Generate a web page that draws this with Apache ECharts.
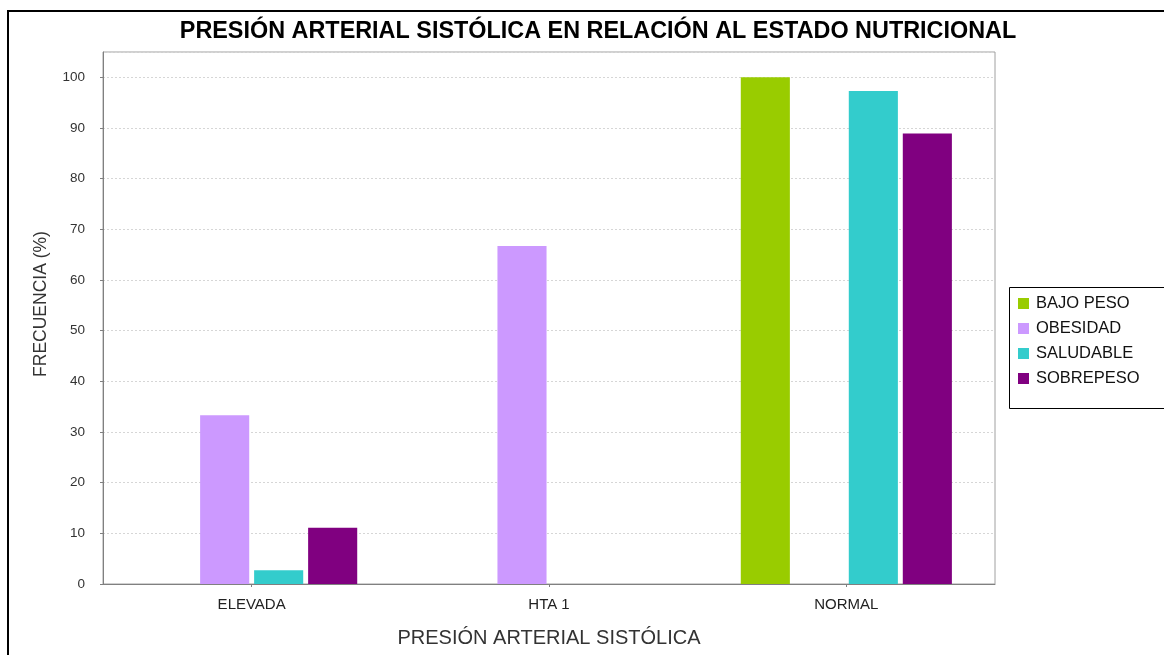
<!DOCTYPE html>
<html>
<head>
<meta charset="utf-8">
<script src="https://cdn.jsdelivr.net/npm/echarts@6/dist/echarts.min.js"></script>
<style>
  html, body { margin: 0; padding: 0; background: #ffffff; }
  #chart { width: 1164px; height: 655px; }
</style>
</head>
<body>
<div id="chart"></div>
<script>
// Systolic blood pressure categories and frequency (%) per nutritional status
const categories = ['ELEVADA', 'HTA 1', 'NORMAL'];
const seriesNames = ['BAJO PESO', 'OBESIDAD', 'SALUDABLE', 'SOBREPESO'];
const bajoPeso = [0, 0, 100];
const obesidad = [33.3, 66.7, 0];
const saludable = [2.7, 0, 97.3];
const sobrepeso = [11.1, 0, 88.9];
const seriesColors = ['#99cc00', '#cc99ff', '#33cccc', '#800080'];

const seriesData = [bajoPeso, obesidad, saludable, sobrepeso];
const font = 'Liberation Sans, Arial, sans-serif';

const chart = echarts.init(document.getElementById('chart'), null, { renderer: 'canvas' });

chart.setOption({
  backgroundColor: '#ffffff',
  animation: false,
  color: seriesColors,
  title: {
    text: 'PRESIÓN ARTERIAL SISTÓLICA EN RELACIÓN AL ESTADO NUTRICIONAL',
    left: 593,
    textAlign: 'center',
    top: 15,
    textStyle: { fontFamily: font, fontSize: 23.4, fontWeight: 'bold', color: '#000000' }
  },
  legend: {
    orient: 'vertical',
    left: 1013,
    top: 290,
    itemWidth: 11,
    itemHeight: 11,
    itemGap: 8,
    icon: 'rect',
    data: seriesNames,
    textStyle: { fontFamily: font, fontSize: 16.5, color: '#111111', padding: [0, 0, 0, 2] }
  },
  graphic: [
    {
      type: 'rect',
      shape: { x: 8, y: 11, width: 1200, height: 700 },
      style: { fill: null, stroke: '#000000', lineWidth: 2 },
      silent: true, z: 100
    },
    {
      type: 'rect',
      shape: { x: 1009.5, y: 287.5, width: 200, height: 121 },
      style: { fill: null, stroke: '#000000', lineWidth: 1 },
      silent: true, z: 100
    }
  ],
  grid: {
    left: 103,
    right: 169,
    top: 52,
    bottom: 71,
    show: true,
    borderColor: '#a0a0a0',
    borderWidth: 1
  },
  xAxis: {
    type: 'category',
    data: categories,
    name: 'PRESIÓN ARTERIAL SISTÓLICA',
    nameLocation: 'middle',
    nameGap: 44,
    nameTextStyle: { fontFamily: font, fontSize: 20, color: '#333333' },
    axisLine: { lineStyle: { color: '#808080' } },
    axisTick: { show: true, alignWithLabel: true, length: 3, lineStyle: { color: '#808080' } },
    axisLabel: { fontFamily: font, fontSize: 15, color: '#222222', margin: 13 }
  },
  yAxis: {
    type: 'value',
    min: 0,
    max: 105,
    interval: 10,
    name: 'FRECUENCIA (%)',
    nameLocation: 'middle',
    nameGap: 53,
    nameTextStyle: { fontFamily: font, fontSize: 17.5, color: '#333333', padding: [0, 0, 0, 28] },
    axisLine: { show: true, lineStyle: { color: '#808080' } },
    axisTick: { show: true, length: 3, lineStyle: { color: '#808080' } },
    axisLabel: {
      fontFamily: font, fontSize: 13.5, color: '#333333', margin: 18,
      showMaxLabel: false,
      formatter: v => (v % 10 === 0 ? String(v) : '')
    },
    splitLine: { show: true, lineStyle: { color: '#d6d6d6', type: [2, 2] } }
  },
  series: seriesNames.map((name, i) => ({
    name: name,
    type: 'bar',
    data: seriesData[i],
    barGap: '10%',
    barCategoryGap: '29%',
    itemStyle: { color: seriesColors[i] }
  }))
});
</script>
</body>
</html>
